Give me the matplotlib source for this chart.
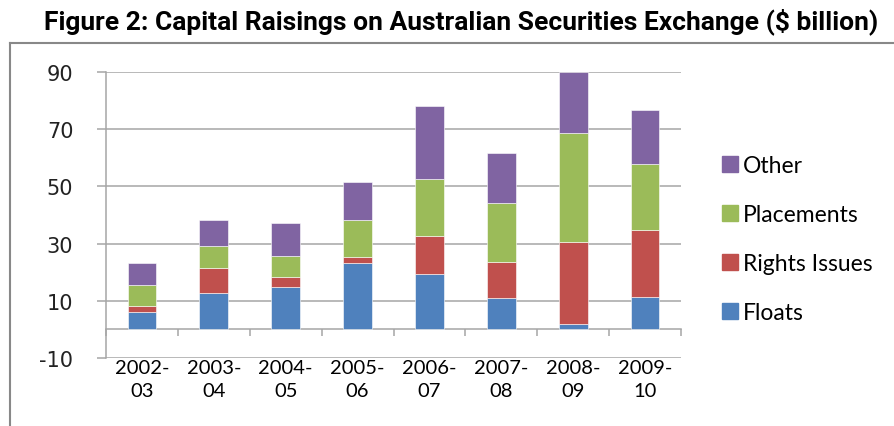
import matplotlib
matplotlib.use("Agg")
import matplotlib.pyplot as plt
import numpy as np
from matplotlib.lines import Line2D
from matplotlib.patches import Patch

plt.rcParams["axes.unicode_minus"] = False

categories = ["2002-\n03", "2003-\n04", "2004-\n05", "2005-\n06", "2006-\n07", "2007-\n08", "2008-\n09", "2009-\n10"]
floats     = [5.9, 12.8, 14.9, 23.1, 19.5, 10.9, 1.8, 11.4]
rights     = [2.3, 8.6, 3.3, 2.2, 13.1, 12.7, 28.6, 23.4]
placements = [7.2, 7.6, 7.6, 13.1, 19.9, 20.7, 38.3, 22.9]
other      = [7.8, 9.4, 11.4, 13.0, 25.6, 17.5, 21.4, 19.0]
series_names = ["Floats", "Rights Issues", "Placements", "Other"]
colors = ["#4F81BD", "#C0504D", "#9BBB59", "#8064A2"]
yticks = [-10, 10, 30, 50, 70, 90]

fig = plt.figure(figsize=(8.94, 4.27), dpi=100)
ax = fig.add_axes([106/894, 1-358.7/427, 575/894, (358.7-73.3)/427])

x = np.arange(len(categories))
bottom = np.zeros(len(categories))
handles = []
for name, vals, c in zip(series_names, [floats, rights, placements, other], colors):
    ax.bar(x, vals, width=0.40, bottom=bottom, color=c, edgecolor="white", linewidth=0.4, zorder=3)
    bottom += np.array(vals)
    handles.append(Patch(facecolor=c, edgecolor=c))

ax.set_xlim(-0.5, len(categories) - 0.5)
ax.set_ylim(-10, 90)
ax.set_yticks(yticks)
ax.yaxis.grid(True, color="#A6A6A6", linewidth=1.1, zorder=0)
ax.set_axisbelow(True)

for s in ["top", "right"]:
    ax.spines[s].set_visible(False)
ax.spines["left"].set_color("#A6A6A6")
ax.spines["left"].set_linewidth(1.1)
ax.spines["bottom"].set_position(("data", 0))
ax.spines["bottom"].set_color("#A6A6A6")
ax.spines["bottom"].set_linewidth(1.1)

ax.tick_params(axis="y", length=6.5, width=1.1, color="#A6A6A6", pad=17,
               labelsize=15, labelcolor="#222222")
for lab in ax.get_yticklabels():
    lab.set_fontfamily("DejaVu Sans")

ax.set_xticks(x)
ax.set_xticklabels(categories, fontsize=14.5, family="Lato", linespacing=1.45)
ax.tick_params(axis="x", which="major", length=0, pad=21.5)
ax.set_xticks(np.arange(len(categories) + 1) - 0.5, minor=True)
ax.tick_params(axis="x", which="minor", length=5, width=1.1, color="#A6A6A6", direction="out")

fig.text(461/894, 1 - 22/427, "Figure 2: Capital Raisings on Australian Securities Exchange ($ billion)",
         ha="center", va="center", fontsize=19, fontweight="bold", family="Roboto")

# chart area border
fig.add_artist(Line2D([10/894, 10/894], [0, 1-44/427], transform=fig.transFigure, color="#888888", lw=1.5))
fig.add_artist(Line2D([10/894, 1], [1-44/427, 1-44/427], transform=fig.transFigure, color="#888888", lw=1.5))

leg = fig.legend(handles[::-1], series_names[::-1], loc="upper left",
                 bbox_to_anchor=(713/894, 1-147/427), frameon=False, borderaxespad=0,
                 prop={"family": "Lato", "size": 16.5}, handlelength=0.7, handleheight=0.7,
                 handletextpad=0.2, labelspacing=1.22)

fig.savefig("out.png", dpi=100)
